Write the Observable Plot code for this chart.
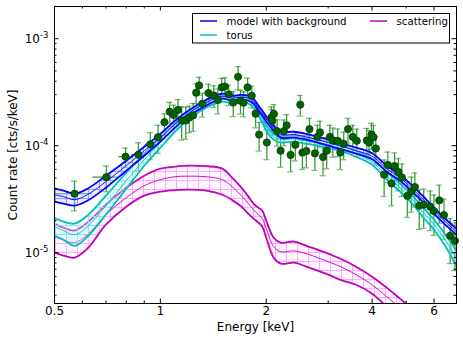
<!DOCTYPE html>
<html><head><meta charset="utf-8">
<script src="https://cdn.jsdelivr.net/npm/d3@7"></script>
<script src="https://cdn.jsdelivr.net/npm/@observablehq/plot@0.6"></script>
<style>html,body{margin:0;padding:0;background:#fff}</style>
</head><body><div id="chart"></div>
<script>
// ---- observed spectrum (keV, cts/s/keV) ----
const energy = [0.570,0.702,0.796,0.866,0.936,0.985,1.027,1.063,1.091,1.122,1.150,1.181,1.209,1.239,1.264,1.289,1.317,1.370,1.419,1.457,1.494,1.525,1.564,1.611,1.663,1.690,1.724,1.770,1.819,1.865,1.909,2.008,2.067,2.081,2.103,2.147,2.197,2.245,2.286,2.346,2.420,2.499,2.534,2.601,2.654,2.750,2.796,2.843,2.900,2.971,3.034,3.094,3.193,3.248,3.321,3.416,3.524,3.618,3.863,3.922,3.984,4.036,4.098,4.327,4.434,4.543,4.633,4.750,4.861,5.039,5.173,5.292,5.444,5.607,5.851,5.996,6.208,6.403,6.666,6.880];
const energyErr = [0.071,0.06,0.034,0.037,0.03,0.022,0.02,0.016,0.016,0.016,0.016,0.016,0.016,0.014,0.014,0.014,0.02,0.025,0.022,0.02,0.018,0.018,0.022,0.025,0.02,0.017,0.02,0.025,0.025,0.022,0.04,0.04,0.01,0.01,0.015,0.02,0.025,0.02,0.025,0.035,0.04,0.02,0.02,0.03,0.04,0.03,0.025,0.03,0.035,0.035,0.03,0.04,0.03,0.035,0.045,0.05,0.05,0.1,0.03,0.03,0.025,0.03,0.06,0.06,0.055,0.05,0.06,0.06,0.08,0.07,0.07,0.07,0.08,0.1,0.08,0.1,0.1,0.12,0.12,0.1];
const rate = [3.56e-5,5.08e-5,7.89e-5,8.24e-5,1.03e-4,1.20e-4,1.66e-4,2.08e-4,1.94e-4,2.16e-4,1.72e-4,1.72e-4,1.83e-4,1.92e-4,3.13e-4,3.66e-4,2.47e-4,3.11e-4,2.95e-4,2.68e-4,3.51e-4,3.57e-4,3.02e-4,2.53e-4,4.40e-4,2.63e-4,2.52e-4,3.51e-4,2.93e-4,1.99e-4,1.27e-4,1.07e-4,1.84e-4,1.71e-4,1.98e-4,1.37e-4,8.98e-5,1.37e-4,1.55e-4,8.20e-5,1.02e-4,2.42e-4,8.60e-5,8.92e-5,1.43e-4,8.47e-5,1.21e-4,1.33e-4,7.84e-5,8.98e-5,1.21e-4,1.12e-4,1.11e-4,8.66e-5,1.04e-4,1.43e-4,1.21e-4,1.11e-4,1.12e-4,1.07e-4,1.27e-4,1.20e-4,9.42e-5,5.36e-5,6.61e-5,4.44e-5,6.46e-5,5.69e-5,5.05e-5,3.39e-5,3.74e-5,4.11e-5,2.75e-5,2.81e-5,2.69e-5,2.45e-5,3.08e-5,2.25e-5,1.44e-5,1.29e-5];
const rateErr = [1.1e-5,1.37e-5,1.6e-5,2.4e-5,2.9e-5,3.5e-5,3.2e-5,4.6e-5,4.5e-5,5.4e-5,5.9e-5,5.7e-5,5.1e-5,5.6e-5,6.6e-5,7.0e-5,6.2e-5,6.5e-5,6.8e-5,7.0e-5,7.4e-5,7.5e-5,6.6e-5,6.6e-5,1.08e-4,6.6e-5,6.6e-5,7.7e-5,6.7e-5,5.2e-5,3.8e-5,3.3e-5,4.6e-5,4.6e-5,4.4e-5,3.8e-5,2.7e-5,3.7e-5,4.0e-5,2.5e-5,3.0e-5,5.3e-5,2.6e-5,2.7e-5,3.7e-5,2.6e-5,3.4e-5,3.6e-5,2.6e-5,2.9e-5,3.4e-5,3.4e-5,3.2e-5,2.7e-5,3.0e-5,3.7e-5,3.4e-5,3.2e-5,3.3e-5,3.2e-5,3.5e-5,3.5e-5,2.8e-5,2.0e-5,2.1e-5,1.7e-5,2.1e-5,1.9e-5,1.7e-5,1.25e-5,1.35e-5,1.44e-5,1.1e-5,1.12e-5,1.08e-5,1.0e-5,1.2e-5,9.2e-6,6.5e-6,6.1e-6];

// ---- model curves (upper / middle / lower of each band) ----
const modelEnergy = [0.5,0.53,0.57,0.62,0.7,0.8,0.9,1.0,1.1,1.2,1.35,1.5,1.6,1.7,1.78,1.84,1.9,1.95,2.0,2.1,2.2,2.4,2.6,2.8,3.0,3.3,3.6,4.0,4.4,4.8,5.2,5.6,6.0,6.5,6.95];
const totalHi  = [3.96e-5,3.80e-5,3.56e-5,3.96e-5,5.24e-5,7.24e-5,9.79e-5,1.29e-4,1.71e-4,2.12e-4,2.69e-4,3.06e-4,2.93e-4,2.99e-4,2.93e-4,2.75e-4,2.37e-4,2.12e-4,1.87e-4,1.54e-4,1.35e-4,1.35e-4,1.29e-4,1.21e-4,1.14e-4,1.04e-4,9.58e-5,8.51e-5,6.50e-5,5.36e-5,4.23e-5,3.34e-5,2.63e-5,2.03e-5,1.68e-5];
const totalMid = [3.48e-5,3.34e-5,3.13e-5,3.48e-5,4.61e-5,6.50e-5,8.98e-5,1.19e-4,1.59e-4,1.99e-4,2.52e-4,2.90e-4,2.78e-4,2.84e-4,2.78e-4,2.60e-4,2.24e-4,2.01e-4,1.77e-4,1.46e-4,1.27e-4,1.27e-4,1.21e-4,1.14e-4,1.07e-4,9.79e-5,8.98e-5,7.98e-5,6.10e-5,5.02e-5,3.96e-5,3.13e-5,2.47e-5,1.91e-5,1.57e-5];
const totalLo  = [3.00e-5,2.87e-5,2.75e-5,3.06e-5,4.05e-5,5.84e-5,8.06e-5,1.09e-4,1.47e-4,1.87e-4,2.37e-4,2.75e-4,2.63e-4,2.69e-4,2.63e-4,2.47e-4,2.12e-4,1.91e-4,1.68e-4,1.38e-4,1.19e-4,1.19e-4,1.14e-4,1.07e-4,1.00e-4,9.18e-5,8.42e-5,7.48e-5,5.71e-5,4.71e-5,3.72e-5,2.93e-5,2.31e-5,1.79e-5,1.47e-5];
const torusHi  = [2.12e-5,1.95e-5,1.87e-5,2.22e-5,3.41e-5,5.59e-5,8.42e-5,1.19e-4,1.61e-4,2.03e-4,2.58e-4,2.93e-4,2.81e-4,2.87e-4,2.81e-4,2.58e-4,2.17e-4,1.87e-4,1.57e-4,1.29e-4,1.21e-4,1.24e-4,1.19e-4,1.14e-4,1.09e-4,1.00e-4,8.98e-5,7.56e-5,5.71e-5,4.42e-5,3.41e-5,2.63e-5,2.03e-5,1.44e-5,1.04e-5];
const torusMid = [1.75e-5,1.61e-5,1.47e-5,1.75e-5,2.75e-5,4.71e-5,7.40e-5,1.07e-4,1.47e-4,1.89e-4,2.42e-4,2.75e-4,2.63e-4,2.69e-4,2.63e-4,2.42e-4,2.03e-4,1.75e-4,1.47e-4,1.21e-4,1.14e-4,1.16e-4,1.11e-4,1.07e-4,1.02e-4,9.38e-5,8.42e-5,7.09e-5,5.24e-5,4.05e-5,3.13e-5,2.36e-5,1.83e-5,1.27e-5,8.8e-6];
const torusLo  = [1.44e-5,1.32e-5,1.16e-5,1.41e-5,2.26e-5,3.96e-5,6.50e-5,9.58e-5,1.35e-4,1.75e-4,2.27e-4,2.58e-4,2.47e-4,2.52e-4,2.47e-4,2.27e-4,1.91e-4,1.64e-4,1.38e-4,1.14e-4,1.07e-4,1.09e-4,1.04e-4,1.00e-4,9.58e-5,8.79e-5,7.89e-5,6.65e-5,4.81e-5,3.72e-5,2.87e-5,2.12e-5,1.64e-5,1.11e-5,7.4e-6];
const scatHi   = [1.87e-5,1.71e-5,1.61e-5,1.91e-5,2.81e-5,4.05e-5,5.24e-5,6.10e-5,6.36e-5,6.50e-5,6.43e-5,6.10e-5,5.02e-5,4.05e-5,3.34e-5,2.87e-5,2.63e-5,2.47e-5,1.99e-5,1.38e-5,1.24e-5,1.27e-5,1.16e-5,1.07e-5,9.79e-6,8.60e-6,7.40e-6,5.97e-6,4.71e-6,3.72e-6,3.0e-6,null,null,null,null];
const scatMid  = [1.41e-5,1.32e-5,1.24e-5,1.47e-5,2.26e-5,3.27e-5,4.23e-5,4.81e-5,5.13e-5,5.19e-5,5.13e-5,4.81e-5,4.14e-5,3.41e-5,2.87e-5,2.52e-5,2.26e-5,2.08e-5,1.68e-5,1.14e-5,1.02e-5,1.04e-5,9.79e-6,8.98e-6,8.24e-6,7.24e-6,6.23e-6,5.02e-6,3.88e-6,3.06e-6,2.42e-6,null,null,null,null];
const scatLo   = [1.00e-5,9.38e-6,8.98e-6,1.09e-5,1.83e-5,2.69e-5,3.41e-5,3.72e-5,3.85e-5,3.88e-5,3.80e-5,3.48e-5,3.10e-5,2.69e-5,2.31e-5,2.08e-5,1.91e-5,1.75e-5,1.38e-5,8.98e-6,7.89e-6,8.06e-6,7.40e-6,6.79e-6,6.23e-6,5.47e-6,5.02e-6,4.14e-6,3.13e-6,2.42e-6,1.9e-6,null,null,null,null];

// ---- axes ----
const xDomain = [0.5, 6.95];
const yDomain = [3.35e-6, 2.0e-3];
const xTicks = [0.5, 1, 2, 4, 6];
const xMinor = [0.6, 0.7, 0.8, 0.9, 3, 5];
const yTicks = [1e-5, 1e-4, 1e-3];
const yMinor = [4e-6,5e-6,6e-6,7e-6,8e-6,9e-6,2e-5,3e-5,4e-5,5e-5,6e-5,7e-5,8e-5,9e-5,2e-4,3e-4,4e-4,5e-4,6e-4,7e-4,8e-4,9e-4,2e-3];
const legendLabels = ["model with background", "torus", "scattering"];

const W = 463, H = 342, mL = 54, mR = 7, mT = 6, mB = 39;
const pW = W - mL - mR, pH = H - mT - mB;
const BLUE = "#0000ff", CYAN = "#00bfbf", MAG = "#bf00bf", GREEN = "#1a8a1a";
const FONT = "DejaVu Sans";

const pts = energy.map((e, i) => ({E: e, r: rate[i], lo: rate[i] - rateErr[i], hi: rate[i] + rateErr[i], e1: e - energyErr[i], e2: e + energyErr[i]}));
const band = (hi, mid, lo) => modelEnergy.map((e, i) => ({E: e, hi: hi[i], mid: mid[i], lo: lo[i]})).filter(d => d.hi != null);
const total = band(totalHi, totalMid, totalLo);
const torus = band(torusHi, torusMid, torusLo);
const scat = band(scatHi, scatMid, scatLo);

const curve = "catmull-rom";
function bandMarks(rows, color, meshId) {
  return [
    Plot.areaY(rows, {x: "E", y1: "lo", y2: "hi", fill: `url(#${meshId})`, curve, clip: true}),
    Plot.line(rows, {x: "E", y: "hi", stroke: color, strokeWidth: 1.8, curve, clip: true}),
    Plot.line(rows, {x: "E", y: "mid", stroke: color, strokeWidth: 0.9, curve, clip: true}),
    Plot.line(rows, {x: "E", y: "lo", stroke: color, strokeWidth: 1.8, curve, clip: true})
  ];
}

const chart = Plot.plot({
  width: W, height: H,
  marginLeft: mL, marginRight: mR, marginTop: mT, marginBottom: mB,
  style: {fontFamily: FONT, fontSize: "12px", background: "#fff", color: "#000"},
  x: {type: "log", domain: xDomain},
  y: {type: "log", domain: yDomain},
  marks: [
    // error bars
    Plot.ruleX(pts, {x: "E", y1: d => Math.max(d.lo, 1e-7), y2: "hi", stroke: GREEN, strokeWidth: 1.3, strokeOpacity: 0.85, clip: true}),
    Plot.ruleY(pts, {y: "r", x1: "e1", x2: "e2", stroke: GREEN, strokeWidth: 1.3, strokeOpacity: 0.85, clip: true}),
    Plot.ruleY(pts, {y: "hi", x1: "E", x2: "E", insetLeft: -3, insetRight: -3, stroke: GREEN, strokeWidth: 1.2, strokeOpacity: 0.6}),
    Plot.ruleY(pts, {y: d => Math.max(d.lo, 1e-7), x1: "E", x2: "E", insetLeft: -3, insetRight: -3, stroke: GREEN, strokeWidth: 1.2, strokeOpacity: 0.6, clip: true}),
    // model bands
    ...bandMarks(scat, MAG, "meshM"),
    ...bandMarks(torus, CYAN, "meshC"),
    ...bandMarks(total, BLUE, "meshB"),
    // data points
    Plot.dot(pts, {x: "E", y: "r", r: 3.6, fill: "#006400", stroke: "#053805", strokeWidth: 0.8}),
    // inward ticks, all four sides
    Plot.ruleX(xTicks, {x: d => d, insetTop: pH - 4.5, stroke: "#000"}),
    Plot.ruleX(xTicks, {x: d => d, insetBottom: pH - 4.5, stroke: "#000"}),
    Plot.ruleX(xMinor, {x: d => d, insetTop: pH - 2.5, stroke: "#000"}),
    Plot.ruleX(xMinor, {x: d => d, insetBottom: pH - 2.5, stroke: "#000"}),
    Plot.ruleY(yTicks, {y: d => d, insetRight: pW - 4.5, stroke: "#000"}),
    Plot.ruleY(yTicks, {y: d => d, insetLeft: pW - 4.5, stroke: "#000"}),
    Plot.ruleY(yMinor, {y: d => d, insetRight: pW - 2.5, stroke: "#000"}),
    Plot.ruleY(yMinor, {y: d => d, insetLeft: pW - 2.5, stroke: "#000"}),
    Plot.frame({stroke: "#000", strokeWidth: 1}),
    Plot.axisX({ticks: xTicks, tickSize: 0, tickPadding: 3, tickFormat: d => String(d), fontSize: 12,
      label: "Energy [keV]", labelAnchor: "center", labelOffset: 27, labelArrow: "none"}),
    Plot.axisY({ticks: yTicks, tickSize: 0, tickPadding: 6, tickFormat: d => "10^" + Math.round(Math.log10(d)), fontSize: 12,
      label: "Count rate [cts/s/keV]", labelAnchor: "center", labelOffset: 46, labelArrow: "none"})
  ]
});

chart.style.fontFamily = FONT;
chart.style.fontSize = "12px";
document.getElementById("chart").appendChild(chart);
const svg = d3.select(chart);
svg.selectAll('g[aria-label^="x-axis"], g[aria-label^="y-axis"]').attr("font-size", 12).attr("font-family", FONT);

// superscript exponents on y tick labels
svg.selectAll('g[aria-label="y-axis tick label"] text').each(function() {
  const t = d3.select(this);
  const s = t.text();
  if (s.indexOf("^") < 0) return;
  const [base, ex] = s.split("^");
  t.text(base);
  t.append("tspan").attr("dy", "-0.5em").attr("font-size", "8.5px").text(ex);
});

// mesh patterns for the uncertainty bands
const defs = svg.insert("defs", ":first-child");
function mesh(id, color, bg) {
  const p = defs.append("pattern").attr("id", id).attr("patternUnits", "userSpaceOnUse")
    .attr("width", 11).attr("height", 9);
  p.append("rect").attr("width", 11).attr("height", 9).attr("fill", bg);
  p.append("path").attr("d", "M0.5,0V9M0,0.5H11").attr("stroke", color).attr("stroke-width", 0.8).attr("fill", "none");
}
mesh("meshM", "#f0a6f0", "rgba(255,210,255,0.25)");
mesh("meshC", "#8fe6e6", "rgba(190,245,245,0.35)");
mesh("meshB", "#8c8cff", "rgba(200,200,255,0.4)");

// legend box (upper right, inside the axes)
const lg = svg.append("g").attr("font-family", FONT).attr("font-size", "10.2px").attr("text-anchor", "start");
lg.append("rect").attr("x", 192.5).attr("y", 13.5).attr("width", 257).attr("height", 29.5)
  .attr("fill", "#fff").attr("stroke", "#000").attr("stroke-width", 1);
const entries = [
  {label: legendLabels[0], color: BLUE, x: 200, y: 21},
  {label: legendLabels[1], color: CYAN, x: 200, y: 35},
  {label: legendLabels[2], color: MAG, x: 370, y: 21}
];
for (const e of entries) {
  lg.append("line").attr("x1", e.x).attr("x2", e.x + 17).attr("y1", e.y).attr("y2", e.y)
    .attr("stroke", e.color).attr("stroke-width", 1.5);
  lg.append("text").attr("x", e.x + 26.5).attr("y", e.y + 3.7).attr("text-anchor", "start").attr("fill", "#000").text(e.label);
}
</script>
</body></html>
